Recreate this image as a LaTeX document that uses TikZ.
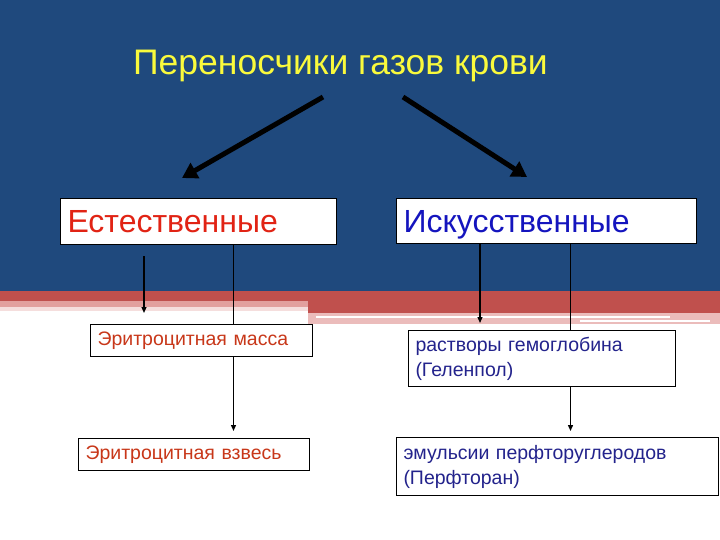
\documentclass[tikz,border=0pt]{standalone}
\usepackage{fontspec}
\setmainfont{Liberation Sans}
\usetikzlibrary{arrows.meta, calc}
\definecolor{slide}{RGB}{31,73,125}
\definecolor{band}{RGB}{192,80,77}
\definecolor{bandlt}{RGB}{226,160,158}
\definecolor{heading}{RGB}{250,250,60}
\definecolor{natred}{RGB}{225,35,20}
\definecolor{artblue}{RGB}{20,20,190}
\definecolor{subred}{RGB}{200,55,25}
\definecolor{subblue}{RGB}{35,35,140}
\tikzset{
  bigbox/.style={draw=black, fill=white, anchor=north west, align=left,
                 inner xsep=7pt, inner ysep=8pt, line width=1pt,
                 text height=26pt, text depth=3pt,
                 font=\fontsize{32}{36}\selectfont},
  smallbox/.style={draw=black, fill=white, anchor=north west, align=left,
                   inner xsep=7pt, inner ysep=2pt, line width=1pt,
                   font=\fontsize{19.5}{25}\selectfont},
  bigar/.style={-{Triangle[length=15pt,width=17pt]}, line width=5pt},
  ar/.style={-{Triangle[length=6pt,width=5pt]}, line width=1.3pt},
  ln/.style={line width=1.3pt},
}

\begin{document}
\begin{tikzpicture}[x=1pt, y=-1pt]
  \useasboundingbox (0,0) rectangle (720,540);

  % --- slide background ---
  \fill[white] (0,0) rectangle (720,540);
  \fill[slide] (0,0) rectangle (720,291);
  \fill[band] (0,291) rectangle (720,301);
  \fill[bandlt] (0,301) rectangle (308,307);
  \fill[bandlt!35] (0,307) rectangle (308,311);
  \fill[band] (308,301) rectangle (720,313);
  \fill[bandlt!70] (308,313) rectangle (720,324);
  \fill[white] (316,316) rectangle (670,318);
  \fill[white] (580,320) rectangle (710,322);

  % --- title ---
  \node[heading, anchor=base west, inner sep=0pt, font=\fontsize{35.5}{40}\selectfont]
       (title) at (133,75) {Переносчики газов крови};

  % --- main groups ---
  \node[bigbox, text=natred, text width=262pt, minimum height=46pt] (natural) at (60,198) {Естественные};
  \node[bigbox, text=artblue, text width=286pt, minimum height=45pt] (artificial) at (396,198) {Искусственные};

  % --- sub items ---
  \node[smallbox, text=subred, text width=208pt, minimum height=32pt] (ermass) at (90,324) {Эритроцитная масса};
  \node[smallbox, text=subred, text width=217pt, minimum height=32pt] (ersusp) at (78,438) {Эритроцитная взвесь};
  \node[smallbox, text=subblue, text width=253pt, minimum height=56pt] (hbsol) at (408,330) {растворы гемоглобина\\(Геленпол)};
  \node[smallbox, text=subblue, text width=308pt, minimum height=58pt] (pfemul) at (396,437) {эмульсии перфторуглеродов\\(Перфторан)};

  % --- arrows ---
  \coordinate (splitL) at (323,97);
  \coordinate (splitR) at (403,97);
  \draw[bigar] (splitL) -- ([shift={(122pt,20pt)}]natural.north west);
  \draw[bigar] (splitR) -- ([shift={(131pt,21pt)}]artificial.north west);

  \coordinate (natTip) at (144,313);
  \draw[ar] ([yshift=-11pt]natural.south -| natTip) -- (natTip);
  \draw[ln] ([xshift=32pt]ermass.north) -- ([xshift=32pt]ermass.north |- natural.south);
  \draw[ar, shorten >=7pt] ([xshift=32pt]ermass.south) -- ([xshift=32pt]ermass.south |- ersusp.north);

  \coordinate (artTip) at (480,323);
  \draw[ar] (artificial.south -| artTip) -- (artTip);
  \draw[ln] ([xshift=28.5pt]hbsol.north) -- ([xshift=28.5pt]hbsol.north |- artificial.south);
  \draw[ar, shorten >=6pt] ([xshift=28.5pt]hbsol.south) -- ([xshift=28.5pt]hbsol.south |- pfemul.north);

\end{tikzpicture}
\end{document}
